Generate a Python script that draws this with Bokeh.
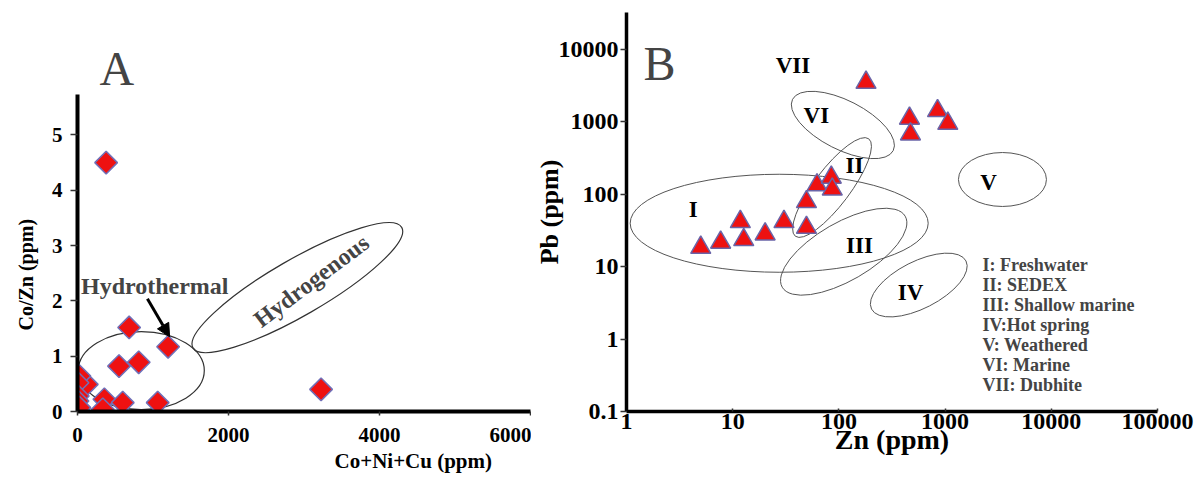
import math
from bokeh.plotting import figure
from bokeh.layouts import row
from bokeh.models import FixedTicker, Label, Arrow, NormalHead, ColumnDataSource, Title
from bokeh.core.properties import value
from bokeh.embed import file_html
from bokeh.resources import INLINE

FONT = "Liberation Serif"

# ---------------- Panel A data ----------------
a_conicu = [379, 684, 1200, 550, 811, 3226, 356, 335, 599, 1062, 123, 25, 0, 4, 0, 25]
a_cozn = [4.50, 1.52, 1.17, 0.82, 0.89, 0.40, 0.22, 0.04, 0.16, 0.16, 0.49, 0.64, 0.52, 0.28, 0.19, 0.07]
a_xticks = [0, 2000, 4000, 6000]
a_yticks = [0, 1, 2, 3, 4, 5]
a_fields = ["Hydrothermal", "Hydrogenous"]
a_field_x = [845, 2912]
a_field_y = [0.74, 2.24]

# ---------------- Panel B data ----------------
b_zn = [5.0, 7.7, 11.8, 12.7, 20.2, 30.4, 49.5, 49.5, 62.2, 84.8, 86.6, 180, 462, 472, 849, 1060]
b_pb = [18.4, 21.6, 41.7, 23.5, 28.1, 41.7, 34.7, 78.7, 134, 171, 117, 3500, 1115, 676, 1422, 950]
b_xticks = [1, 10, 100, 1000, 10000, 100000]
b_xlabels = ["1", "10", "100", "1000", "10000", "100000"]
b_yticks = [0.1, 1, 10, 100, 1000, 10000]
b_ylabels = ["0.1", "1", "10", "100", "1000", "10000"]
region_names = ["I", "II", "III", "IV", "V", "VI", "VII"]
region_x = [4.25, 140, 156, 472, 2570, 61.4, 36.9]
region_y = [62.2, 248, 19.5, 4.4, 146, 1213, 5960]
ell_x = [27.4, 86.2, 111, 565, 3467, 109]
ell_y = [39.8, 124, 16.1, 5.58, 160, 906]
legend_items = ["I: Freshwater", "II: SEDEX", "III: Shallow marine", "IV:Hot spring",
                "V: Weathered", "VI: Marine", "VII: Dubhite"]


def style_axis(ax, size):
    ax.axis_line_color = "black"
    ax.major_tick_line_color = "#333333"
    ax.major_tick_line_width = 1.5
    ax.minor_tick_line_color = None
    ax.major_label_text_font = FONT
    ax.major_label_text_font_style = "bold"
    ax.major_label_text_font_size = size
    ax.major_label_text_color = "black"
    ax.axis_label_text_font = FONT
    ax.axis_label_text_font_style = "bold"
    ax.axis_label_text_color = "black"


# ================= Panel A =================
pa = figure(width=531, height=478, x_range=(0, 6000), y_range=(0, 7.215),
            output_backend="svg", toolbar_location=None,
            min_border_left=77, min_border_right=1, min_border_top=12, min_border_bottom=67)
pa.grid.visible = False
pa.outline_line_color = None
pa.xaxis.bounds = (0, 6000)
pa.yaxis.bounds = (0, 5.73)
pa.xaxis.ticker = FixedTicker(ticks=a_xticks)
pa.yaxis.ticker = FixedTicker(ticks=a_yticks)
for ax in (pa.xaxis[0], pa.yaxis[0]):
    style_axis(ax, "21px")
    ax.axis_line_width = 4
pa.xaxis.major_tick_in = 0
pa.xaxis.major_tick_out = 4
pa.xaxis.major_label_standoff = 12
pa.yaxis.major_tick_in = 0
pa.yaxis.major_tick_out = 7
pa.yaxis.major_label_standoff = 8
pa.add_layout(Title(text="Co+Ni+Cu (ppm)", align="left", offset=257, standoff=5,
                    text_font=FONT, text_font_style="bold", text_font_size="21px",
                    text_color="black"), "below")
pa.add_layout(Title(text="Co/Zn (ppm)", align="left", offset=81, standoff=24,
                    text_font=FONT, text_font_style="bold", text_font_size="20px",
                    text_color="black"), "left")

# field ellipses
pa.ellipse(x=[a_field_x[0]], y=[a_field_y[0]], width=126, height=78,
           width_units="screen", height_units="screen",
           fill_color=None, line_color="#333333", line_width=1.2)
pa.ellipse(x=[a_field_x[1]], y=[a_field_y[1]], width=241, height=56, angle=30,
           angle_units="deg", width_units="screen", height_units="screen",
           fill_color=None, line_color="#333333", line_width=1.2)

src_a = ColumnDataSource(dict(x=a_conicu, y=a_cozn))
pa.scatter("x", "y", source=src_a, marker="square", size=16, angle=math.pi / 4,
           fill_color="#ee1111", line_color="#7070b8", line_width=1.5)

pa.add_layout(Label(x=46, y=2.27, text=a_fields[0], text_font=FONT, text_font_style="bold",
                    text_font_size="24px", text_align="left", text_baseline="middle"))
pa.add_layout(Label(x=3099, y=2.36, text=a_fields[1], text_font=FONT, text_font_style="bold",
                    text_font_size="24px", angle=37, angle_units="deg",
                    text_align="center", text_baseline="middle"))
pa.add_layout(Arrow(end=NormalHead(size=13, fill_color="black", line_color="black"),
                    x_start=926, y_start=2.04, x_end=1220, y_end=1.35,
                    line_width=3, line_color="black"))
pa.add_layout(Label(x=520, y=6.21, text="A", text_font=FONT, text_font_size="48px",
                    text_align="center", text_baseline="middle"))

# ================= Panel B =================
pb = figure(width=664, height=478, x_axis_type="log", y_axis_type="log",
            x_range=(1, 100000), y_range=(0.1, 32400),
            output_backend="svg", toolbar_location=None,
            min_border_left=89, min_border_right=38, min_border_top=12, min_border_bottom=67)
pb.grid.visible = False
pb.outline_line_color = None
pb.xaxis.ticker = FixedTicker(ticks=b_xticks)
pb.yaxis.ticker = FixedTicker(ticks=b_yticks)
pb.xaxis.major_label_overrides = {t: l for t, l in zip(b_xticks, b_xlabels)}
pb.yaxis.major_label_overrides = {t: l for t, l in zip(b_yticks, b_ylabels)}
for ax in (pb.xaxis[0], pb.yaxis[0]):
    style_axis(ax, "24px")
    ax.axis_line_width = 3.5
pb.xaxis.major_tick_in = 3
pb.xaxis.major_tick_out = 0
pb.xaxis.major_label_standoff = 2
pb.yaxis.major_tick_in = 0
pb.yaxis.major_tick_out = 6
pb.yaxis.major_label_standoff = 2
pb.xaxis.axis_label = "Zn (ppm)"
pb.xaxis.axis_label_text_font_size = "28px"
pb.xaxis.axis_label_standoff = -8
pb.yaxis.axis_label = "Pb (ppm)"
pb.yaxis.axis_label_text_font_size = "26px"
pb.yaxis.axis_label_standoff = -8

for fig in (pa, pb):
    try:
        fig.frame_align = False
    except Exception:
        pass

ell_w = [298, 122, 142, 106, 88, 113]
ell_h = [98, 36, 58, 47, 54, 49]
ell_a = [0, 53, 30, 27, 0, -27]
pb.ellipse(x=ell_x, y=ell_y, width=ell_w, height=ell_h, angle=ell_a, angle_units="deg",
           width_units="screen", height_units="screen",
           fill_color=None, line_color="#555555", line_width=1)

src_b = ColumnDataSource(dict(x=b_zn, y=b_pb))
pb.scatter("x", "y", source=src_b, marker="triangle", size=20,
           fill_color="#ee1111", line_color="#6a64a8", line_width=1.5)

src_r = ColumnDataSource(dict(x=region_x, y=region_y, t=region_names))
pb.text("x", "y", text="t", source=src_r, text_font=value(FONT), text_font_style="bold",
        text_font_size="23px", text_align="center", text_baseline="middle", text_color="black")

pb.add_layout(Label(x=2.05, y=6412, text="B", text_font=FONT, text_font_size="48px",
                    text_align="center", text_baseline="middle"))
for i, item in enumerate(legend_items):
    pb.add_layout(Label(x=356, y=147 - 20 * i, x_units="screen", y_units="screen", text=item,
                        text_font=FONT, text_font_style="bold", text_font_size="18px",
                        text_align="left", text_baseline="middle"))

layout = row(pa, pb)
open("out.html", "w").write(file_html(layout, INLINE))
